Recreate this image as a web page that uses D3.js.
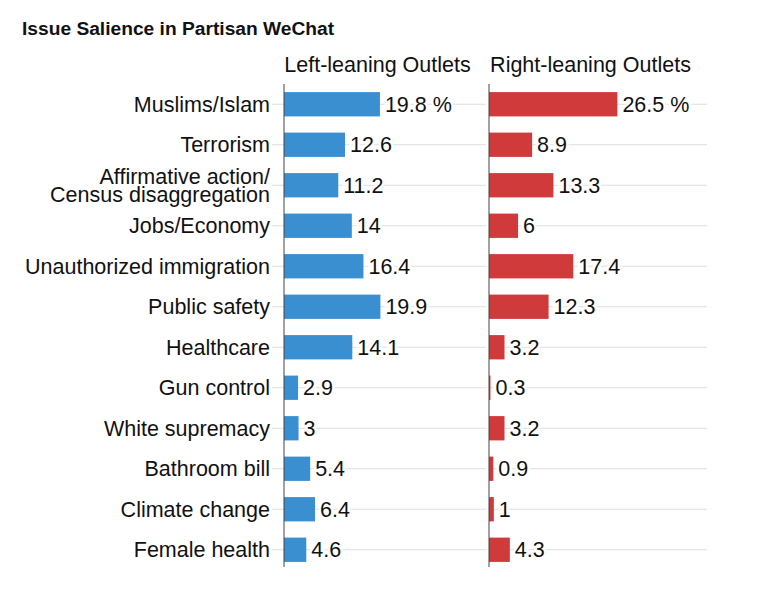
<!DOCTYPE html>
<html>
<head>
<meta charset="utf-8">
<script src="https://cdn.jsdelivr.net/npm/d3@7"></script>
<style>
  body { margin: 0; background: #fff; }
  text { font-family: "Liberation Sans", Arial, sans-serif; }
</style>
</head>
<body>
<script>
var issues = ["Muslims/Islam", "Terrorism", "Affirmative action/\nCensus disaggregation", "Jobs/Economy",
    "Unauthorized immigration", "Public safety", "Healthcare", "Gun control", "White supremacy",
    "Bathroom bill", "Climate change", "Female health"]
var leftValues = [19.8, 12.6, 11.2, 14, 16.4, 19.9, 14.1, 2.9, 3, 5.4, 6.4, 4.6]
var rightValues = [26.5, 8.9, 13.3, 6, 17.4, 12.3, 3.2, 0.3, 3.2, 0.9, 1, 4.3]
var panelTitles = ["Left-leaning Outlets", "Right-leaning Outlets"]

var width = 762, height = 600
var fs = 21.5

var svg = d3.select("body").append("svg")
    .attr("width", width)
    .attr("height", height)

svg.append("text")
    .attr("x", 22).attr("y", 35)
    .attr("font-size", 19.2).attr("font-weight", "bold")
    .attr("fill", "#111")
    .text("Issue Salience in Partisan WeChat")

var y = d3.scaleBand()
    .domain(issues)
    .range([84, 570])
    .paddingInner(0.4)
    .paddingOuter(0.2)

// same px per unit in both panels
var x = d3.scaleLinear().domain([0, 45]).range([0, 218])

var panels = [
    {x0: 284, gridEnd: 486, color: "#3a8fd0", values: leftValues, title: panelTitles[0]},
    {x0: 489, gridEnd: 707, color: "#d03a3b", values: rightValues, title: panelTitles[1]}
]

// category labels
var labels = svg.append("g")
issues.forEach(function(d){
    var lines = d.split("\n")
    var cy = y(d) + y.bandwidth() / 2
    var t = labels.append("text")
        .attr("x", 270)
        .attr("text-anchor", "end")
        .attr("font-size", fs)
        .attr("fill", "#111")
    lines.forEach(function(l, i){
        t.append("tspan")
            .attr("x", 270)
            .attr("y", cy + 7.5 + (i - (lines.length - 1) / 2) * 18.5)
            .text(l)
    })
})

panels.forEach(function(p, pi){
    var g = svg.append("g").attr("transform", "translate(" + p.x0 + ",0)")

    g.append("text")
        .attr("x", pi == 0 ? 93.5 : 101.5)
        .attr("y", 72)
        .attr("text-anchor", "middle")
        .attr("font-size", fs)
        .attr("fill", "#111")
        .text(p.title)

    // grid lines
    g.selectAll("line.grid")
        .data(issues)
        .enter()
        .append("line")
        .attr("class", "grid")
        .attr("x1", pi == 0 ? -12 : 0)
        .attr("x2", p.gridEnd - p.x0)
        .attr("y1", (d) => y(d) + y.bandwidth() / 2)
        .attr("y2", (d) => y(d) + y.bandwidth() / 2)
        .attr("stroke", "#dedede")
        .attr("stroke-width", 1)

    var data = issues.map((d, i) => ({issue: d, value: p.values[i], i: i}))

    g.selectAll("rect.bar")
        .data(data)
        .enter()
        .append("rect")
        .attr("class", "bar")
        .attr("x", 0)
        .attr("y", (d) => y(d.issue))
        .attr("width", (d) => x(d.value))
        .attr("height", y.bandwidth())
        .attr("fill", p.color)

    // white halo behind labels so gridline breaks
    g.selectAll("text.val")
        .data(data)
        .enter()
        .append("text")
        .attr("class", "val")
        .attr("x", (d) => x(d.value) + 5)
        .attr("y", (d) => y(d.issue) + y.bandwidth() / 2 + 7.5)
        .attr("font-size", fs)
        .attr("fill", "#111")
        .attr("stroke", "#fff")
        .attr("stroke-width", 5)
        .attr("paint-order", "stroke")
        .text((d) => d.i == 0 ? d.value + " %" : d.value)

    g.append("line")
        .attr("x1", 0).attr("x2", 0)
        .attr("y1", 84).attr("y2", 567)
        .attr("stroke", "#444")
        .attr("stroke-width", 1)
})
</script>
</body>
</html>
